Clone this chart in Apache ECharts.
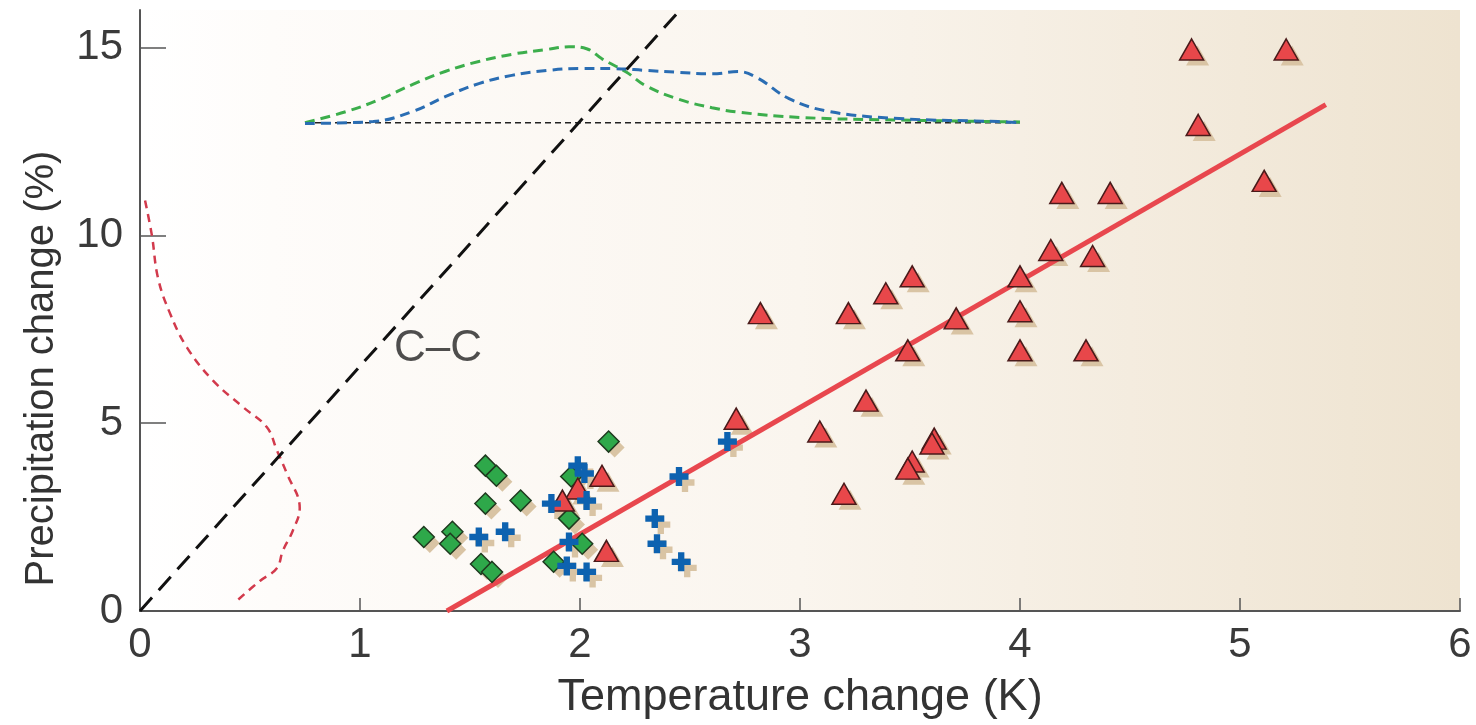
<!DOCTYPE html>
<html>
<head>
<meta charset="utf-8">
<script src="https://cdn.jsdelivr.net/npm/echarts@6/dist/echarts.min.js"></script>
<style>html,body{margin:0;padding:0;background:#fff}#c{width:1476px;height:725px}</style>
</head>
<body>
<div id="c"></div>
<script>
// ---- data ----
const xTicks = [0, 1, 2, 3, 4, 5, 6];
const yTicks = [0, 5, 10, 15];
const redTriangles = [
  [4.78,14.95],[5.21,14.95],[4.81,12.94],[5.11,11.45],[4.19,11.13],[4.41,11.13],
  [4.14,9.61],[4.33,9.45],[4.0,8.91],[3.51,8.91],[3.39,8.46],[2.82,7.93],[3.22,7.93],
  [4.0,7.98],[3.71,7.79],[3.49,6.94],[4.0,6.94],[4.30,6.94],[3.30,5.6],[2.71,5.12],
  [3.09,4.78],[3.61,4.59],[3.60,4.46],[3.51,3.98],[3.49,3.79],[3.2,3.12],
  [2.10,3.6],[1.99,3.26],[1.92,2.94],[2.12,1.6]
];
const blueCrosses = [
  [1.99,3.87],[2.02,3.66],[1.87,2.86],[2.03,2.94],[1.54,1.97],[1.66,2.11],[1.95,1.84],
  [1.94,1.2],[2.03,1.04],[2.45,3.58],[2.34,2.46],[2.35,1.79],[2.46,1.31],[2.67,4.51]
];
const greenDiamonds = [
  [2.13,4.51],[1.57,3.87],[1.62,3.6],[1.96,3.58],[1.57,2.86],[1.73,2.94],[1.95,2.46],
  [1.29,1.97],[1.42,2.11],[1.41,1.79],[2.01,1.79],[1.55,1.25],[1.6,1.04],[1.88,1.31]
];
const fitLine = [[1.395,0],[5.39,13.48]];
const ccLine = [[0,0],[2.455,16]];
const ccLabel = [[1.355,6.97]];
const baseline = [[0.75,13.0],[4.0,13.0]];
const greenPdf = [[0.75,13.0],[0.94,13.3],[1.09,13.62],[1.24,14.02],[1.39,14.37],[1.54,14.63],
  [1.69,14.82],[1.85,14.95],[1.95,15.02],[2.03,14.97],[2.10,14.7],[2.21,14.35],[2.30,13.98],
  [2.45,13.62],[2.60,13.4],[2.72,13.28],[3.0,13.14],[3.45,13.07],[4.0,13.02]];
const bluePdf = [[0.75,12.98],[1.06,13.03],[1.24,13.3],[1.39,13.7],[1.54,14.04],[1.69,14.26],
  [1.85,14.39],[2.0,14.44],[2.15,14.44],[2.30,14.39],[2.45,14.34],[2.60,14.3],[2.72,14.36],
  [2.81,14.18],[2.95,13.64],[3.13,13.3],[3.45,13.11],[3.9,13.03],[4.0,13.0]];
const redPdf = [[0.023,10.93],[0.054,10.0],[0.082,8.86],[0.136,7.93],[0.213,7.02],[0.331,6.14],
  [0.468,5.43],[0.577,4.89],[0.622,4.28],[0.667,3.67],[0.726,2.74],[0.694,2.13],[0.649,1.60],
  [0.622,1.14],[0.545,0.80],[0.44,0.27]];

const FONT = 'Liberation Sans';
const NARROW = "'Liberation Sans Narrow', 'Liberation Sans'";
const crossPath = 'path://M3,0H6V3H9V6H6V9H3V6H0V3H3Z';
const shadowColor = '#d9c4a4';
const shOff = [6, 6];

function shadowSeries(data, symbol, size) {
  return {type:'scatter', data, symbol, symbolSize:size, symbolOffset:shOff, silent:true, z:2,
    itemStyle:{color:shadowColor, opacity:1}};
}

const chart = echarts.init(document.getElementById('c'), null, {renderer:'canvas'});
chart.setOption({
  animation:false,
  grid:{left:140, right:16, top:10, bottom:113, show:true, borderWidth:0,
    backgroundColor:{type:'linear', x:0, y:0, x2:1, y2:0, colorStops:[
      {offset:0, color:'#ffffff'},{offset:0.1, color:'#fefcfa'},{offset:0.5, color:'#faf5ee'},{offset:1, color:'#eee3d0'}]}},
  xAxis:{type:'value', min:0, max:6, interval:1,
    name:'Temperature change (K)', nameLocation:'middle', nameGap:64,
    nameTextStyle:{fontFamily:FONT, fontSize:45, color:'#333'},
    axisLine:{show:true, lineStyle:{color:'#555', width:2}},
    axisTick:{show:true, inside:true, length:13, lineStyle:{color:'#555', width:1.5}},
    axisLabel:{fontFamily:NARROW, fontSize:42, color:'#3a3a3a', margin:13},
    splitLine:{show:false}},
  yAxis:{type:'value', min:0, max:16, interval:5,
    name:'Precipitation change (%)', nameLocation:'middle', nameGap:78,
    nameTextStyle:{fontFamily:FONT, fontSize:40, color:'#333', padding:[0,116,0,0]},
    axisLine:{show:true, lineStyle:{color:'#555', width:2}},
    axisTick:{show:true, inside:true, length:26, customValues:yTicks, lineStyle:{color:'#555', width:1.5}},
    axisLabel:{fontFamily:NARROW, fontSize:42, color:'#3a3a3a', margin:17, customValues:yTicks},
    splitLine:{show:false}},
  series:[
    {type:'line', data:baseline, showSymbol:false, silent:true, z:3,
      lineStyle:{color:'#222', width:1.5, type:[6,4]}},
    {type:'line', data:greenPdf, smooth:0.4, showSymbol:false, silent:true, z:3,
      lineStyle:{color:'#3cae4c', width:3, type:[10,6]}},
    {type:'line', data:bluePdf, smooth:0.4, showSymbol:false, silent:true, z:3,
      lineStyle:{color:'#2a6db3', width:3, type:[10,6]}},
    {type:'line', data:redPdf, smooth:0.4, showSymbol:false, silent:true, z:3,
      lineStyle:{color:'#d23a4c', width:2.5, type:[8,6]}},
    {type:'line', data:ccLine, showSymbol:false, silent:true, z:3,
      lineStyle:{color:'#111', width:3, type:[18,10]}},
    {type:'line', data:fitLine, showSymbol:false, silent:true, z:3,
      lineStyle:{color:'#e8474e', width:5}},
    {type:'scatter', data:ccLabel, symbolSize:0, silent:true, z:4,
      label:{show:true, position:'inside', formatter:'C\u2013C', fontFamily:FONT, fontSize:44, color:'#222'}},
    shadowSeries(greenDiamonds, 'diamond', 20),
    shadowSeries(redTriangles, 'triangle', [23,20]),
    shadowSeries(blueCrosses, crossPath, 19),
    {type:'scatter', data:greenDiamonds, symbol:'diamond', symbolSize:21, z:5,
      itemStyle:{color:'#2ea84a', borderColor:'#1f3a1f', borderWidth:1.5, opacity:1}},
    {type:'scatter', data:redTriangles, symbol:'triangle', symbolSize:[24,21], z:6,
      itemStyle:{color:'#e8474a', borderColor:'#4a1a1a', borderWidth:1.5, opacity:1}},
    {type:'scatter', data:blueCrosses, symbol:crossPath, symbolSize:19, z:7,
      itemStyle:{color:'#0d62b0', opacity:1}}
  ]
});
</script>
</body>
</html>
